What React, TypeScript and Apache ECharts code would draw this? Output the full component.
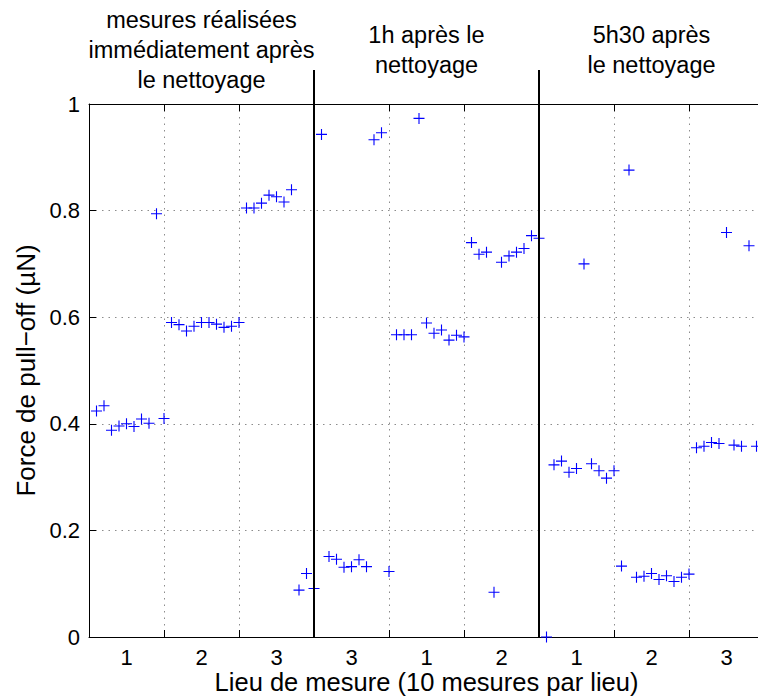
import React, { useEffect, useRef } from 'react';
import * as echarts from 'echarts';

// Tick labels of the 9 measurement places (10 measurements each)
const groupLabels = ['1', '2', '3', '3', '1', '2', '1', '2', '3'];

// Section titles
const sectionTitles = [
  ['mesures réalisées', 'immédiatement après', 'le nettoyage'],
  ['1h après le', 'nettoyage'],
  ['5h30 après', 'le nettoyage'],
];

// Pull-off force (µN), measured immediately after cleaning (places 1, 2, 3)
const immediate = [
  0.424, 0.434, 0.388, 0.396, 0.400, 0.395, 0.409, 0.401, 0.794, 0.410,
  0.590, 0.586, 0.574, 0.583, 0.590, 0.590, 0.587, 0.581, 0.583, 0.590,
  0.805, 0.805, 0.814, 0.829, 0.826, 0.816, 0.839, 0.088, 0.119, 0.091,
];

// 1h after cleaning (places 3, 1, 2)
const after1h = [
  0.943, 0.151, 0.146, 0.131, 0.132, 0.145, 0.132, 0.933, 0.946, 0.123,
  0.567, 0.567, 0.567, 0.973, 0.589, 0.570, 0.576, 0.557, 0.566, 0.563,
  0.740, 0.718, 0.722, 0.084, 0.703, 0.715, 0.722, 0.729, 0.753, 0.748,
];

// 5h30 after cleaning (places 1, 2, 3)
const after5h30 = [
  0.000, 0.323, 0.330, 0.309, 0.316, 0.700, 0.325, 0.312, 0.298, 0.312,
  0.133, 0.876, 0.112, 0.114, 0.119, 0.108, 0.115, 0.104, 0.112, 0.118,
  0.355, 0.358, 0.365, 0.363, 0.759, 0.360, 0.358, 0.734, 0.358,
];

const separatorsAt = [30, 60];
const sectionCentersAt = [15, 45, 75];

const FONT = '"Liberation Sans", Arial, Helvetica, sans-serif';
const PLUS = 'path://M4.5,0H5.5V4.5H10V5.5H5.5V10H4.5V5.5H0V4.5H4.5Z';

export default function App() {
  const ref = useRef<HTMLDivElement>(null);

  useEffect(() => {
    document.body.style.margin = '0';
    document.body.style.overflow = 'hidden';
    const chart = echarts.init(ref.current!, null, { renderer: 'svg' });
    const values = [...immediate, ...after1h, ...after5h30];
    const data = values.map((v, k) => [k + 1, v]);
    const dotted = { color: '#8c8c8c', width: 1, type: [1.5, 5] };

    chart.setOption({
      animation: false,
      backgroundColor: '#ffffff',
      textStyle: { fontFamily: FONT },
      grid: {
        left: 89,
        top: 104,
        right: 16,
        bottom: 62,
        containLabel: false,
        outerBoundsMode: 'none',
      },
      xAxis: [
        {
          type: 'category',
          data: groupLabels,
          position: 'bottom',
          boundaryGap: true,
          name: 'Lieu de mesure (10 mesures par lieu)',
          nameLocation: 'middle',
          nameGap: 32,
          nameMoveOverlap: false,
          nameTextStyle: { fontSize: 25.5, lineHeight: 26, color: '#000', fontFamily: FONT },
          axisLine: { show: true, lineStyle: { color: '#000', width: 1 } },
          axisTick: { show: true, inside: true, length: 7, lineStyle: { color: '#000' } },
          axisLabel: { fontSize: 22, color: '#000', margin: 9, fontFamily: FONT },
          splitLine: { show: true, lineStyle: dotted },
        },
        {
          type: 'value',
          min: 0,
          max: 90,
          show: false,
          splitLine: { show: false },
        },
        {
          type: 'category',
          data: groupLabels,
          position: 'top',
          boundaryGap: true,
          axisLine: { show: true, lineStyle: { color: '#000', width: 1 } },
          axisTick: { show: true, inside: true, length: 7, lineStyle: { color: '#000' } },
          axisLabel: { show: false },
          splitLine: { show: false },
        },
      ],
      yAxis: [
        {
          type: 'value',
          min: 0,
          max: 1,
          interval: 0.2,
          name: 'Force de pull\u2212off (µN)',
          nameLocation: 'middle',
          nameRotate: 90,
          nameGap: 50,
          nameTextStyle: { fontSize: 26, color: '#000', fontFamily: FONT },
          axisLine: { show: true, lineStyle: { color: '#000', width: 1 } },
          axisTick: { show: true, inside: true, length: 7, lineStyle: { color: '#000' } },
          axisLabel: { fontSize: 22, color: '#000', margin: 9, fontFamily: FONT },
          splitLine: { show: true, lineStyle: dotted },
        },
      ],
      series: [
        {
          type: 'scatter',
          xAxisIndex: 1,
          yAxisIndex: 0,
          data,
          symbol: PLUS,
          symbolSize: 11,
          itemStyle: { color: '#0000ff', opacity: 1 },
          silent: true,
        },
      ],
    });

    const px = (x: number, y: number) =>
      chart.convertToPixel({ xAxisIndex: 1, yAxisIndex: 0 }, [x, y]) as number[];

    const graphics: any[] = [];
    separatorsAt.forEach((s) => {
      const [xb, yb] = px(s, 0);
      graphics.push({
        type: 'line',
        shape: { x1: xb, y1: 70, x2: xb, y2: yb },
        style: { stroke: '#000', lineWidth: 2 },
        z: 100,
      });
    });
    sectionCentersAt.forEach((c, k) => {
      const [xc] = px(c, 0);
      graphics.push({
        type: 'text',
        x: xc,
        y: k === 0 ? 5 : 20,
        style: {
          text: sectionTitles[k].join('\n'),
          fill: '#000',
          fontSize: 23.5,
          fontFamily: FONT,
          lineHeight: 30,
          textAlign: 'center',
          textVerticalAlign: 'top',
        },
        z: 100,
      });
    });
    chart.setOption({ graphic: graphics });

    return () => chart.dispose();
  }, []);

  return (
    <div
      ref={ref}
      style={{ position: 'fixed', left: 0, top: 0, width: 780, height: 699 }}
    />
  );
}
